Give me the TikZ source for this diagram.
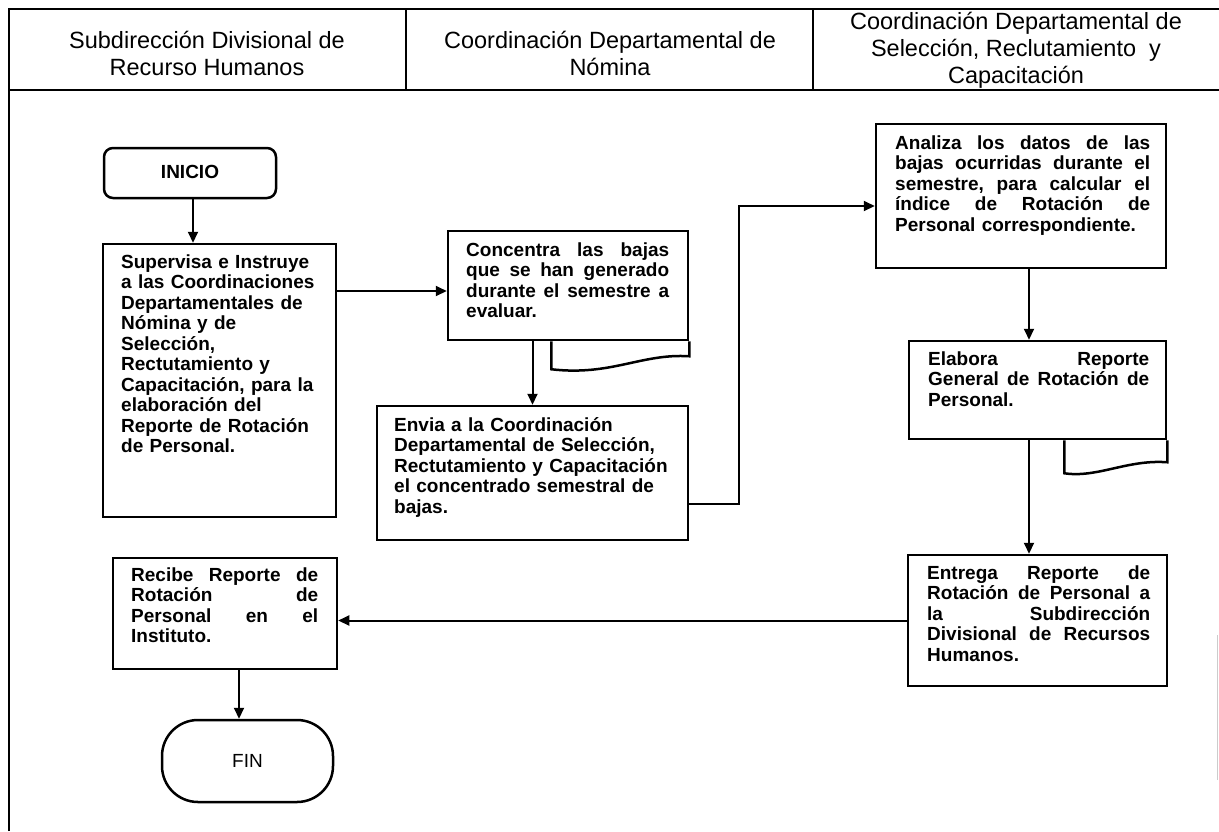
\documentclass[tikz,border=0pt]{standalone}
\usepackage{fontspec}
\setmainfont{Liberation Sans}
\usetikzlibrary{arrows.meta,calc}
\newcommand\jl[2]{\leavevmode\hbox to #1{#2}}
\newcommand\bodyfnt{\fontsize{19}{20.5}\selectfont\bfseries}
\newcommand\hdrfnt{\fontsize{23.5}{27}\selectfont}
\begin{document}
\begin{tikzpicture}[x=1pt,y=-1pt,
  box/.style={draw, line width=2.5pt, rectangle, inner sep=0pt},
  tail/.style={draw, line width=2.5pt},
  txt/.style={anchor=north west, inner sep=0pt, align=left, font=\bodyfnt},
  hdr/.style={align=center, font=\hdrfnt, inner sep=0pt},
  arr/.style={line width=2pt, -{Triangle[length=11pt,width=10pt]}},
  frm/.style={line width=2pt}]
\useasboundingbox (0,0) rectangle (1219,831);
% frame
\draw[frm] (9,831) -- (9,9) -- (1219,9);
\draw[frm] (9,90) -- (1219,90);
\draw[frm] (406,9) -- (406,90);
\draw[frm] (813,9) -- (813,90);
\draw[gray!40, line width=1pt] (1217,635) -- (1217,780);
% headers
\node[hdr] (h1) at (207,53) {Subdirección Divisional de\\Recurso Humanos};
\node[hdr] (h2) at (610,53) {Coordinación Departamental de\\Nómina};
\node[hdr] (h3) at (1016,50) {Coordinación Departamental de\\Selección, Reclutamiento\ \ y\\Capacitación};
% terminals
\node[box, rounded corners=9pt, minimum width=172pt, minimum height=50pt, font=\bodyfnt, text height=17pt, text depth=7pt] (inicio) at (190,173) {INICIO};
\node[box, rounded corners=36pt, minimum width=171pt, minimum height=82pt, font=\bodyfnt\mdseries] (fin) at (247.5,761) {FIN};
% process boxes
\node[box, minimum width=233pt, minimum height=273pt] (b1) at (219.5,380.5) {};
\node[box, minimum width=240pt, minimum height=109pt] (b2) at (568,285.5) {};
\node[box, minimum width=311pt, minimum height=134pt] (b3) at (532.5,473) {};
\node[box, minimum width=290pt, minimum height=144pt] (b4) at (1021,196) {};
\node[box, minimum width=257pt, minimum height=98pt] (b5) at (1037.5,390) {};
\node[box, minimum width=259pt, minimum height=131pt] (b6) at (1037.5,620.5) {};
\node[box, minimum width=224pt, minimum height=111pt] (b7) at (225,613.5) {};
% document tails
\begin{scope}[shift={(b2.south east)}]
\draw[tail] (-138,0) -- (-138,28) .. controls (-78,35) and (-48,12) .. (0,15) -- (0,0);
\end{scope}
\begin{scope}[shift={(b5.south east)}]
\draw[tail] (-103,0) -- (-103,33) .. controls (-70,38) and (-40,19) .. (0,22) -- (0,0);
\end{scope}
% texts
\node[txt, text width=212pt] (t1) at (121,253.6) {\strut Supervisa e Instruye\\a las Coordinaciones\\Departamentales de\\Nómina y de\\Selección,\\Rectutamiento y\\Capacitación, para la\\elaboración del\\Reporte de Rotación\\de Personal.};
\node[txt, text width=203pt] (t2) at (466,241.6) {\strut\jl{203pt}{Concentra\hfill las\hfill bajas}\\\jl{203pt}{que\hfill se\hfill han\hfill generado}\\\jl{203pt}{durante\hfill el\hfill semestre\hfill a}\\evaluar.};
\node[txt, text width=285pt] (t3) at (394,416.6) {\strut Envia a la Coordinación\\Departamental de Selección,\\Rectutamiento y Capacitación\\el concentrado semestral de\\bajas.};
\node[txt, text width=256pt] (t4) at (895,134.6) {\strut\jl{255pt}{Analiza\hfill los\hfill datos\hfill de\hfill las}\\\jl{255pt}{bajas\hfill ocurridas\hfill durante\hfill el}\\\jl{255pt}{semestre,\hfill para\hfill calcular\hfill el}\\\jl{255pt}{índice\hfill de\hfill Rotación\hfill de}\\Personal correspondiente.};
\node[txt, text width=221pt] (t5) at (928,350.6) {\strut\jl{221pt}{Elabora\hfill Reporte}\\\jl{221pt}{General\hfill de\hfill Rotación\hfill de}\\Personal.};
\node[txt, text width=223pt] (t6) at (927,564.6) {\strut\jl{223pt}{Entrega\hfill Reporte\hfill de}\\\jl{223pt}{Rotación\hfill de\hfill Personal\hfill a}\\\jl{223pt}{la\hfill Subdirección}\\\jl{223pt}{Divisional\hfill de\hfill Recursos}\\Humanos.};
\node[txt, text width=187pt] (t7) at (131,566.6) {\strut\jl{187pt}{Recibe\hfill Reporte\hfill de}\\\jl{187pt}{Rotación\hfill de}\\\jl{187pt}{Personal\hfill en\hfill el}\\Instituto.};
% connectors
\coordinate (ci) at ([xshift=3pt]inicio.south);
\draw[arr] (ci) -- (ci |- b1.north);
\coordinate (p12) at ([yshift=-5.5pt]b2.west);
\draw[arr] (b1.east |- p12) -- (p12);
\draw[arr] (b2.south -| b3.north) -- (b3.north);
\coordinate (p3) at ([yshift=-31pt]b3.east);
\coordinate (p4) at ([yshift=-10pt]b4.west);
\draw[arr] (p3) -- ++(50,0) |- (p4);
\coordinate (c45) at ([xshift=-8.5pt]b5.north);
\draw[arr] (b4.south -| c45) -- (c45);
\draw[arr] (b5.south -| c45) -- (b6.north -| c45);
\draw[arr] (b6.west) -- (b6.west -| b7.east);
\coordinate (c7) at ([xshift=14pt]b7.south);
\draw[arr] (c7) -- (fin.north -| c7);
\end{tikzpicture}
\end{document}
